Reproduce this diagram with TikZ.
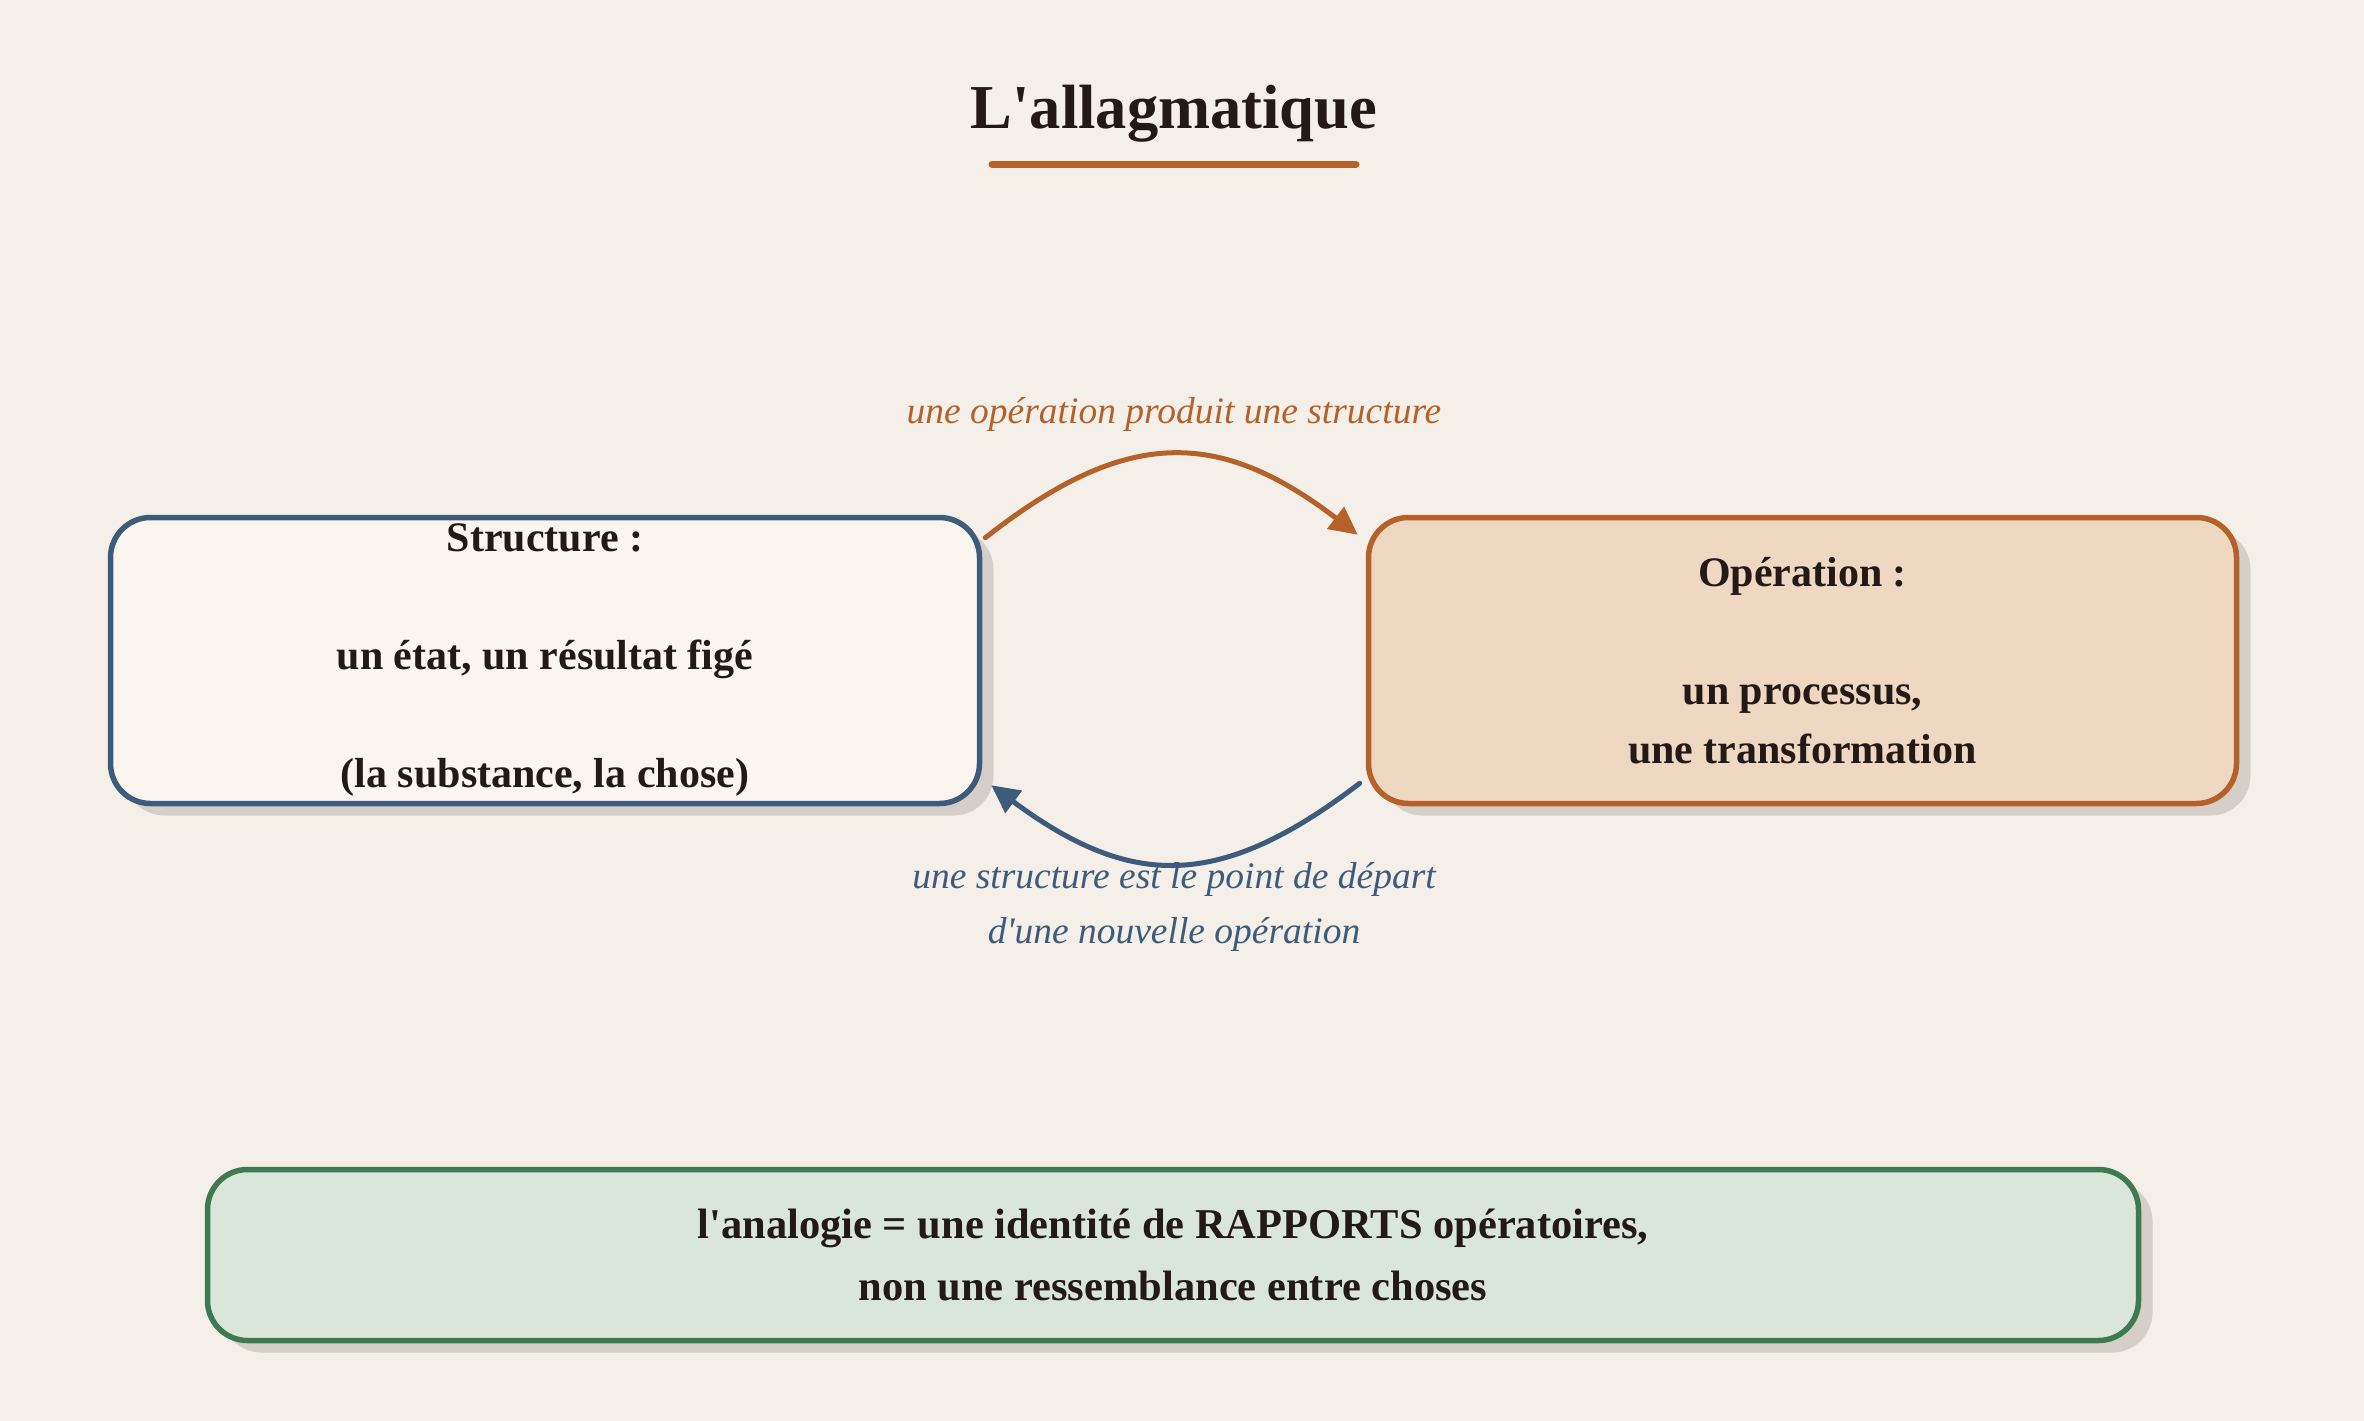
\documentclass[tikz,border=0pt]{standalone}
\usepackage{fontspec}
\newfontfamily\lserif{Liberation Serif}
\usetikzlibrary{arrows.meta,shadows,calc}
\definecolor{bgc}{HTML}{F4F0E9}
\definecolor{ink}{HTML}{231A15}
\definecolor{orangec}{HTML}{B5622A}
\definecolor{bluec}{HTML}{3E5B7B}
\definecolor{greenc}{HTML}{3D7A52}
\definecolor{leftfill}{HTML}{FAF6EF}
\definecolor{rightfill}{HTML}{EFD8C1}
\definecolor{greenfill}{HTML}{D9E6D9}
\definecolor{shadowc}{HTML}{D4CFC8}
\begin{document}
\begin{tikzpicture}[x=1pt,y=-1pt,
  box/.style={draw, line width=5.5pt, rounded corners=40pt, inner sep=0pt, align=center, text=ink,
    font=\lserif\bfseries\fontsize{42}{59}\selectfont,
    drop shadow={shadow xshift=14pt, shadow yshift=-12pt, fill=shadowc, opacity=1}},
  conn/.style={line width=5pt, line cap=round, -{Triangle[length=28pt,width=27pt]}},
  lab/.style={font=\lserif\itshape\fontsize{37.5}{55}\selectfont, anchor=base}]
\fill[bgc] (0,0) rectangle (2364,1421);
\useasboundingbox (0,0) rectangle (2364,1421);
% title
\node[font=\lserif\bfseries\fontsize{62.5}{70}\selectfont, text=ink, anchor=base] (title) at (1174,128) {L'allagmatique};
\draw[orangec, line width=7pt, line cap=round] (992,164) -- (1356,164);
% boxes
\node[box, fill=leftfill, draw=bluec, minimum width=869pt, minimum height=286pt] (S) at (545,660.5)
  {Structure :\\[59pt] un état, un résultat figé\\[59pt] (la substance, la chose)};
\node[box, fill=rightfill, draw=orangec, minimum width=868pt, minimum height=286pt] (O) at (1802.5,660.5)
  {Opération :\\[59pt] un processus,\\ une transformation};
\node[box, fill=greenfill, draw=greenc, minimum width=1931pt, minimum height=171pt,
  font=\lserif\bfseries\fontsize{42.5}{62}\selectfont] (A) at (1173,1255)
  {l'analogie = une identité de RAPPORTS opératoires,\\ non une ressemblance entre choses};
% connectors
\draw[conn, orangec] ($(S.north east)+(3,23)$) .. controls +(140,-110) and +(-140,-107) .. ($(O.north west)+(-8,20)$);
\draw[conn, bluec] ($(O.south west)+(-6,-23)$) .. controls +(-140,107) and +(140,104) .. ($(S.south east)+(9,-21)$);
% labels
\node[lab, text=orangec] (l1) at (1174,423) {une opération produit une structure};
\node[lab, text=bluec] (l2a) at (1174,888) {une structure est le point de départ};
\node[lab, text=bluec] (l2b) at (1174,943) {d'une nouvelle opération};
\end{tikzpicture}
\end{document}
